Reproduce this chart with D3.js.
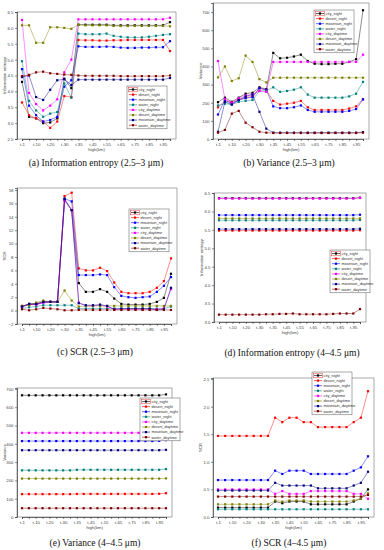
<!DOCTYPE html>
<html>
<head>
<meta charset="utf-8">
<script src="https://cdn.jsdelivr.net/npm/d3@7"></script>
<style>
  body { margin: 0; background: #fff; }
  svg { display: block; }
</style>
</head>
<body>
<svg id="chart" width="384" height="550"></svg>
<script>
// x categories (height steps), labels shown on every other one
const categories = ['t-1', 't-5', 't-10', 't-15', 't-20', 't-25', 't-30', 't-32', 't-35', 't-40', 't-45',
  't-50', 't-55', 't-60', 't-65', 't-70', 't-75', 't-80', 't-85', 't-90', 't-95', 't-100']
const seriesNames = ['city_night', 'desert_night', 'mountain_night', 'water_night',
  'city_daytime', 'desert_daytime', 'mountain_daytime', 'water_daytime']
const colors = ['#000000', '#ff0000', '#0000ff', '#008080', '#ff00ff', '#808000', '#000080', '#800000']

// (a) information entropy 2.5-3 um, one row per series (same order as seriesNames)
const entropyShort = [
  [4.3, 3.2, 3.15, 3.0, 3.02, 3.15, 4.4, 4.1, 6.1, 6.1, 6.1, 6.1, 6.1, 6.08, 6.08, 6.08, 6.08, 6.08, 6.08, 6.08, 6.08, 6.18],
  [3.65, 3.25, 3.15, 3.05, 2.85, 3.05, 3.85, 3.82, 5.62, 5.61, 5.61, 5.6, 5.6, 5.61, 5.61, 5.62, 5.62, 5.62, 5.62, 5.62, 5.62, 5.27],
  [4.7, 3.55, 3.25, 3.05, 3.1, 3.2, 4.15, 4.35, 5.42, 5.4, 5.4, 5.4, 5.41, 5.4, 5.38, 5.37, 5.37, 5.38, 5.38, 5.39, 5.39, 5.58],
  [4.95, 3.7, 3.4, 3.2, 3.3, 3.35, 4.25, 3.8, 5.82, 5.8, 5.8, 5.8, 5.82, 5.75, 5.72, 5.7, 5.7, 5.7, 5.72, 5.75, 5.78, 5.8],
  [6.25, 3.95, 3.6, 3.4, 3.55, 3.75, 4.6, 5.0, 6.27, 6.27, 6.27, 6.27, 6.27, 6.27, 6.27, 6.27, 6.27, 6.27, 6.27, 6.27, 6.27, 6.32],
  [6.08, 6.08, 5.53, 5.53, 6.02, 6.02, 6.0, 5.97, 6.1, 6.08, 6.08, 6.08, 6.08, 6.06, 6.06, 6.06, 6.06, 6.06, 6.06, 6.06, 6.06, 6.05],
  [4.45, 4.5, 3.82, 3.73, 4.05, 4.35, 4.38, 4.2, 4.37, 4.37, 4.37, 4.37, 4.37, 4.37, 4.37, 4.37, 4.37, 4.37, 4.37, 4.37, 4.37, 4.42],
  [4.48, 4.52, 4.6, 4.62, 4.57, 4.55, 4.53, 4.52, 4.5, 4.49, 4.49, 4.49, 4.49, 4.49, 4.48, 4.48, 4.48, 4.48, 4.48, 4.48, 4.48, 4.5]
]

// (b) variance 2.5-3 um
const varianceShort = [
  [203, 228, 205, 228, 250, 255, 285, 275, 475, 445, 448, 455, 465, 430, 415, 413, 413, 415, 415, 425, 440, 710],
  [175, 210, 200, 215, 228, 235, 280, 270, 210, 190, 195, 200, 210, 175, 160, 160, 160, 160, 160, 168, 180, 220],
  [135, 215, 195, 215, 225, 230, 280, 270, 180, 170, 170, 175, 185, 160, 150, 150, 150, 150, 150, 155, 165, 218],
  [185, 195, 190, 205, 210, 215, 265, 265, 285, 260, 265, 272, 285, 245, 228, 228, 228, 228, 228, 235, 250, 315],
  [430, 220, 200, 225, 240, 245, 265, 260, 425, 425, 425, 425, 425, 425, 425, 425, 425, 425, 425, 425, 425, 465],
  [340, 400, 320, 335, 460, 425, 330, 312, 338, 338, 338, 338, 338, 338, 338, 338, 338, 338, 338, 338, 338, 338],
  [40, 205, 190, 215, 235, 245, 150, 57, 35, 35, 35, 35, 35, 35, 35, 35, 35, 35, 35, 35, 35, 38],
  [35, 50, 140, 155, 90, 65, 40, 35, 33, 33, 33, 33, 33, 33, 33, 33, 33, 33, 33, 33, 33, 35]
]

// (c) SCR 2.5-3 um
const scrShort = [
  [0.6, 1.0, 1.0, 1.3, 1.3, 1.3, 16.5, 15.0, 4.1, 2.8, 2.8, 3.2, 2.8, 1.8, 1.0, 0.9, 0.9, 0.9, 1.0, 1.3, 1.9, 5.5],
  [0.7, 0.9, 1.0, 1.3, 1.3, 1.3, 17.1, 17.6, 6.3, 6.0, 6.0, 6.4, 5.9, 4.2, 2.8, 2.6, 2.6, 2.6, 2.8, 3.4, 4.4, 7.8],
  [0.6, 0.9, 0.9, 1.2, 1.3, 1.3, 16.7, 16.3, 5.3, 5.3, 5.3, 5.4, 5.3, 3.5, 2.2, 2.0, 1.9, 2.0, 2.1, 2.8, 3.7, 5.0],
  [0.3, 0.5, 0.6, 0.8, 0.8, 0.8, 0.8, 0.8, 0.3, 0.3, 0.3, 0.3, 0.3, 0.3, 0.3, 0.3, 0.3, 0.3, 0.3, 0.3, 0.3, 0.6],
  [0.6, 0.9, 0.9, 1.2, 1.3, 1.3, 16.4, 15.0, 1.2, 0.7, 0.7, 0.8, 0.6, 0.2, 0.2, 0.2, 0.2, 0.2, 0.2, 0.2, 0.3, 3.2],
  [0.7, 0.8, 1.2, 1.5, 1.3, 1.3, 3.0, 1.5, 0.6, 0.7, 0.7, 0.7, 0.7, 0.7, 0.7, 0.7, 0.7, 0.7, 0.7, 0.7, 0.7, 0.7],
  [0.6, 1.0, 1.0, 1.3, 1.3, 1.3, 16.7, 15.0, 1.1, 0.8, 0.8, 0.9, 0.7, 0.2, 0.3, 0.3, 0.3, 0.3, 0.3, 0.1, 0.2, 3.4],
  [0.2, 0.05, 0.2, 0.4, 0.3, 0.2, 0.05, 0.05, 0.1, 0.1, 0.1, 0.1, 0.1, 0.1, 0.1, 0.1, 0.1, 0.1, 0.1, 0.1, 0.1, 0.1]
]

// (d) information entropy 4-4.5 um
const entropyMid = [
  [6.36, 6.36, 6.36, 6.36, 6.36, 6.36, 6.36, 6.36, 6.36, 6.36, 6.36, 6.36, 6.36, 6.36, 6.36, 6.36, 6.36, 6.36, 6.36, 6.36, 6.36, 6.37],
  [5.48, 5.48, 5.48, 5.48, 5.48, 5.48, 5.48, 5.48, 5.48, 5.48, 5.48, 5.48, 5.48, 5.48, 5.48, 5.48, 5.48, 5.48, 5.48, 5.48, 5.48, 5.49],
  [5.9, 5.9, 5.9, 5.9, 5.9, 5.9, 5.9, 5.9, 5.9, 5.9, 5.9, 5.9, 5.9, 5.9, 5.9, 5.9, 5.9, 5.9, 5.9, 5.9, 5.9, 5.91],
  [5.76, 5.76, 5.76, 5.76, 5.76, 5.76, 5.76, 5.76, 5.76, 5.76, 5.76, 5.76, 5.76, 5.76, 5.76, 5.76, 5.76, 5.76, 5.76, 5.76, 5.76, 5.77],
  [6.35, 6.35, 6.35, 6.35, 6.35, 6.35, 6.35, 6.35, 6.35, 6.35, 6.35, 6.35, 6.35, 6.35, 6.35, 6.35, 6.35, 6.35, 6.35, 6.35, 6.35, 6.37],
  [5.81, 5.81, 5.81, 5.81, 5.81, 5.81, 5.81, 5.81, 5.81, 5.81, 5.81, 5.81, 5.81, 5.81, 5.81, 5.81, 5.81, 5.81, 5.81, 5.81, 5.81, 5.81],
  [5.52, 5.52, 5.52, 5.52, 5.52, 5.52, 5.52, 5.52, 5.52, 5.52, 5.52, 5.52, 5.52, 5.52, 5.52, 5.52, 5.52, 5.52, 5.52, 5.52, 5.52, 5.53],
  [3.2, 3.2, 3.2, 3.2, 3.2, 3.2, 3.2, 3.21, 3.21, 3.22, 3.22, 3.23, 3.21, 3.21, 3.21, 3.21, 3.21, 3.22, 3.23, 3.23, 3.23, 3.35]
]

// (e) variance 4-4.5 um
const varianceMid = [
  [665, 665, 665, 665, 665, 665, 665, 665, 665, 665, 665, 665, 665, 665, 665, 665, 665, 665, 665, 665, 665, 670],
  [125, 125, 125, 125, 125, 125, 125, 125, 126, 126, 126, 126, 126, 126, 126, 126, 126, 126, 126, 126, 127, 130],
  [415, 415, 415, 415, 415, 415, 415, 415, 415, 415, 415, 415, 415, 415, 415, 415, 415, 415, 415, 415, 416, 420],
  [255, 255, 255, 255, 255, 255, 255, 255, 258, 258, 258, 258, 258, 258, 258, 258, 258, 258, 258, 258, 258, 262],
  [460, 460, 460, 460, 460, 460, 460, 460, 460, 460, 460, 460, 460, 460, 460, 460, 460, 460, 460, 460, 460, 460],
  [210, 210, 210, 210, 210, 210, 210, 210, 210, 210, 210, 210, 210, 210, 210, 210, 210, 210, 210, 210, 210, 211],
  [365, 365, 365, 365, 365, 365, 365, 365, 365, 365, 365, 365, 365, 365, 365, 365, 365, 365, 365, 365, 365, 367],
  [48, 48, 48, 48, 48, 48, 48, 48, 48, 48, 48, 48, 48, 48, 48, 48, 48, 48, 48, 48, 48, 48]
]

// (f) SCR 4-4.5 um
const scrMid = [
  [0.17, 0.17, 0.17, 0.17, 0.17, 0.17, 0.17, 0.17, 0.28, 0.25, 0.28, 0.28, 0.28, 0.23, 0.23, 0.23, 0.23, 0.23, 0.23, 0.28, 0.33, 0.5],
  [1.47, 1.47, 1.47, 1.47, 1.47, 1.47, 1.47, 1.47, 1.8, 1.72, 1.8, 1.8, 1.72, 1.72, 1.63, 1.63, 1.63, 1.63, 1.63, 1.72, 1.8, 2.28],
  [0.67, 0.67, 0.67, 0.67, 0.67, 0.67, 0.67, 0.67, 0.84, 0.78, 0.84, 0.84, 0.84, 0.78, 0.78, 0.78, 0.78, 0.78, 0.78, 0.84, 0.9, 1.1],
  [0.14, 0.14, 0.14, 0.14, 0.14, 0.14, 0.14, 0.14, 0.14, 0.14, 0.14, 0.14, 0.14, 0.14, 0.14, 0.14, 0.14, 0.14, 0.14, 0.14, 0.14, 0.14],
  [0.5, 0.5, 0.5, 0.5, 0.5, 0.5, 0.5, 0.5, 0.42, 0.47, 0.42, 0.42, 0.42, 0.47, 0.47, 0.47, 0.47, 0.47, 0.47, 0.42, 0.42, 0.33],
  [0.23, 0.23, 0.23, 0.23, 0.23, 0.23, 0.23, 0.23, 0.3, 0.28, 0.3, 0.3, 0.3, 0.28, 0.28, 0.28, 0.28, 0.28, 0.28, 0.3, 0.33, 0.43],
  [0.48, 0.48, 0.48, 0.48, 0.48, 0.48, 0.48, 0.48, 0.62, 0.57, 0.57, 0.57, 0.57, 0.57, 0.52, 0.52, 0.52, 0.52, 0.52, 0.57, 0.62, 0.82],
  [0.37, 0.37, 0.37, 0.37, 0.37, 0.37, 0.37, 0.37, 0.37, 0.37, 0.37, 0.37, 0.37, 0.37, 0.37, 0.37, 0.37, 0.37, 0.37, 0.37, 0.37, 0.4]
]

const svg = d3.select('#chart')

// layout of the six panels (pixel frames only)
const panels = [
  { data: entropyShort, yLabel: 'Information entropy', caption: '(a)  Information entropy (2.5–3 μm)',
    left: 17, right: 176, top: 12, bottom: 139, domain: [2.5, 6.5], step: 0.5, fmt: '.1f',
    legend: [127, 86], capX: 96, capY: 166 },
  { data: varianceShort, yLabel: 'Variance', caption: '(b)  Variance (2.5–3 μm)',
    left: 213, right: 369, top: 3, bottom: 139, domain: [0, 750], step: 100, fmt: 'd',
    legend: [314, 10], capX: 289, capY: 166 },
  { data: scrShort, yLabel: 'SCR', caption: '(c)  SCR (2.5–3 μm)',
    left: 17, right: 177, top: 188, bottom: 324, domain: [-2, 18.3], step: 2, fmt: 'd',
    legend: [129, 209], capX: 95, capY: 355 },
  { data: entropyMid, yLabel: 'Information entropy', caption: '(d)  Information entropy (4–4.5 μm)',
    left: 214, right: 366, top: 193, bottom: 322, domain: [3.0, 6.5], step: 0.5, fmt: '.1f',
    legend: [330, 250], capX: 292, capY: 356 },
  { data: varianceMid, yLabel: 'Variance', caption: '(e)  Variance (4–4.5 μm)',
    left: 17, right: 172, top: 388, bottom: 517, domain: [0, 705], step: 100, fmt: 'd',
    legend: [140, 398], capX: 95, capY: 546 },
  { data: scrMid, yLabel: 'SCR', caption: '(f)  SCR (4–4.5 μm)',
    left: 213, right: 374, top: 378, bottom: 517, domain: [0, 2.52], step: 0.5, fmt: '.1f',
    legend: [312, 372], capX: 289, capY: 546 }
]

function marker (sel, cx, cy, color) {
  sel.append('rect')
    .attr('x', cx - 1.1)
    .attr('y', cy - 1.1)
    .attr('width', 2.2)
    .attr('height', 2.2)
    .attr('fill', color)
}

function drawPanel (p) {
  const g = svg.append('g')
  const x = d3.scalePoint().domain(categories).range([p.left + 5, p.right - 6])
  const y = d3.scaleLinear().domain(p.domain).range([p.bottom, p.top])
  const ticks = d3.range(p.domain[0], p.domain[1] + 1e-6, p.step)

  // frame
  g.append('rect')
    .attr('x', p.left).attr('y', p.top)
    .attr('width', p.right - p.left).attr('height', p.bottom - p.top)
    .attr('fill', 'none').attr('stroke', '#555').attr('stroke-width', 0.5)

  const yAxis = g.append('g')
    .attr('transform', `translate(${p.left},0)`)
    .call(d3.axisLeft(y).tickValues(ticks).tickSize(2).tickPadding(1.5).tickFormat(d3.format(p.fmt)))
  const xAxis = g.append('g')
    .attr('transform', `translate(0,${p.bottom})`)
    .call(d3.axisBottom(x).tickSize(2).tickPadding(2)
      .tickFormat((d, i) => (i % 2 === 0 && i < 21) ? d : ''))
  ;[yAxis, xAxis].forEach(a => {
    a.select('.domain').attr('stroke', '#222').attr('stroke-width', 0.6)
    a.selectAll('.tick line').attr('stroke', '#222').attr('stroke-width', 0.5)
    a.selectAll('.tick text').attr('font-size', 4.3).attr('fill', '#444')
      .attr('font-family', 'Liberation Sans, Arial, sans-serif')
  })

  g.append('text')
    .attr('transform', `translate(${p.left - 11},${(p.top + p.bottom) / 2}) rotate(-90)`)
    .attr('text-anchor', 'middle')
    .attr('font-size', 4.3).attr('fill', '#444')
    .attr('font-family', 'Liberation Sans, Arial, sans-serif')
    .text(p.yLabel)
  g.append('text')
    .attr('x', (p.left + p.right) / 2).attr('y', p.bottom + 12)
    .attr('text-anchor', 'middle')
    .attr('font-size', 4.3).attr('fill', '#444')
    .attr('font-family', 'Liberation Sans, Arial, sans-serif')
    .text('high(km)')

  const line = d3.line().x((d, i) => x(categories[i])).y(d => y(d))
  p.data.forEach((vals, s) => {
    g.append('path')
      .attr('d', line(vals))
      .attr('fill', 'none')
      .attr('stroke', colors[s])
      .attr('stroke-width', 0.6)
      .attr('stroke-opacity', 0.75)
    vals.forEach((v, i) => marker(g, x(categories[i]), y(v), colors[s]))
  })

  // legend
  const lx = p.legend[0]
  const ly = p.legend[1]
  const rowH = 5.1
  const lg = g.append('g')
  lg.append('rect')
    .attr('x', lx).attr('y', ly)
    .attr('width', 40).attr('height', rowH * 8 + 2)
    .attr('fill', '#fff').attr('stroke', '#555').attr('stroke-width', 0.5)
  seriesNames.forEach((name, s) => {
    const cy = ly + 3.5 + s * rowH
    lg.append('line')
      .attr('x1', lx + 2).attr('x2', lx + 10)
      .attr('y1', cy).attr('y2', cy)
      .attr('stroke', colors[s]).attr('stroke-width', 0.6)
    marker(lg, lx + 6, cy, colors[s])
    lg.append('text')
      .attr('x', lx + 11.5).attr('y', cy + 1.3)
      .attr('font-size', 3.9).attr('fill', '#333')
      .attr('font-family', 'Liberation Sans, Arial, sans-serif')
      .text(name)
  })
  lg.append('rect')
    .attr('x', lx + 1.5).attr('y', ly + 1.2)
    .attr('width', 9).attr('height', 4.6)
    .attr('fill', 'none').attr('stroke', '#e03030').attr('stroke-width', 0.5)

  // caption
  svg.append('text')
    .attr('x', p.capX).attr('y', p.capY)
    .attr('text-anchor', 'middle')
    .attr('font-size', 9.5)
    .attr('font-family', 'Liberation Serif, Times New Roman, serif')
    .attr('fill', '#111')
    .text(p.caption)
}

panels.forEach(drawPanel)
</script>
</body>
</html>
